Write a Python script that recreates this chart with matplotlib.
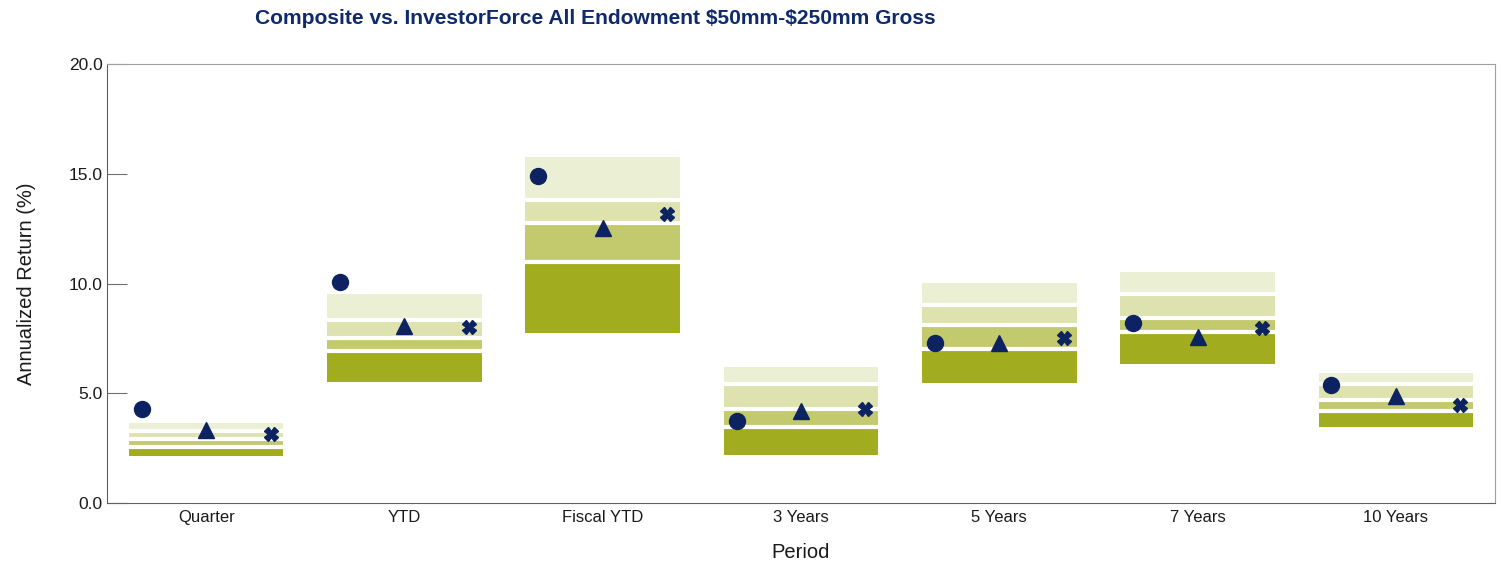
#!/usr/bin/env python
# -*- coding: utf-8 -*-
import numpy as np
import matplotlib
matplotlib.use("Agg")
import matplotlib.pyplot as plt

periods = ["Quarter", "YTD", "Fiscal YTD", "3 Years", "5 Years", "7 Years", "10 Years"]

# universe percentiles (5th, 25th, median, 75th, 95th)
p05 = [3.64, 9.51, 15.75, 6.18, 10.04, 10.51, 5.91]
p25 = [3.27, 8.35, 13.82, 5.44, 9.00, 9.50, 5.41]
p50 = [2.90, 7.54, 12.74, 4.29, 8.09, 8.43, 4.71]
p75 = [2.55, 6.93, 10.96, 3.45, 7.01, 7.80, 4.18]
p95 = [2.15, 5.50, 7.73, 2.17, 5.48, 6.32, 3.45]

# points
composite = [4.27, 10.08, 14.90, 3.74, 7.28, 8.19, 5.38]
policy_index = [3.33, 8.06, 12.51, 4.21, 7.31, 7.57, 4.86]
allocation_index = [3.14, 8.00, 13.17, 4.27, 7.50, 7.96, 4.46]

yticks = [0.0, 5.0, 10.0, 15.0, 20.0]

band_colors = ["#ebefd4", "#dde2ae", "#c3c96d", "#a2ac1f"]
navy = "#0d2361"


def main():
    plt.rcParams["font.family"] = ["Liberation Sans", "DejaVu Sans"]
    fig = plt.figure(figsize=(15.01, 5.66), dpi=100)
    ax = fig.add_axes([0.0713, 0.1113, 0.9247, 0.7756])

    x = np.arange(len(periods)) + 0.5
    width = 0.78
    tops = [p05, p25, p50, p75]
    bots = [p25, p50, p75, p95]
    for i in range(4):
        hi = np.array(tops[i])
        lo = np.array(bots[i])
        ax.bar(x, hi - lo, bottom=lo, width=width, color=band_colors[i],
               linewidth=0, zorder=2)
    # white separators between bands
    for b in [p25, p50, p75]:
        for xi, yi in zip(x, b):
            ax.plot([xi - width / 2, xi + width / 2], [yi, yi], color="white",
                    linewidth=3.0, solid_capstyle="butt", zorder=3)

    off = 0.325
    ax.plot(x - off, composite, "o", color=navy, markersize=11.5, linestyle="none", zorder=4)
    ax.plot(x, policy_index, "^", color=navy, markersize=11.5, linestyle="none", zorder=4)
    ax.plot(x + off, allocation_index, "X", color=navy, markersize=9.5, linestyle="none", zorder=4)

    ax.set_xlim(0, len(periods))
    ax.set_ylim(0, 20)
    ax.set_xticks(x)
    ax.set_xticklabels(periods, fontsize=12, color="#1a1a1a")
    ax.set_yticks(yticks)
    ax.set_yticklabels(["%.1f" % t for t in yticks], fontsize=12.5, color="#1a1a1a")
    ax.tick_params(axis="x", length=0, pad=5)
    ax.tick_params(axis="y", direction="in", length=14.5, color="#707070", pad=3)

    ax.spines["left"].set_color("#606060")
    ax.spines["bottom"].set_color("#606060")
    ax.spines["top"].set_color("#a0a0a0")
    ax.spines["right"].set_color("#a0a0a0")

    ax.set_xlabel("Period", fontsize=14.5, color="#1a1a1a", labelpad=13)
    ax.set_ylabel("Annualized Return (%)", fontsize=14.5, color="#1a1a1a", labelpad=24)

    fig.text(255 / 1501, 1 - 19 / 566, "Composite vs. InvestorForce All Endowment \\$50mm-\\$250mm Gross",
             fontsize=15.1, fontweight="bold", color="#0e2a6b", va="center", ha="left")

    plt.savefig("out.png", dpi=100)
    plt.close(fig)


if __name__ == '__main__':
    main()
